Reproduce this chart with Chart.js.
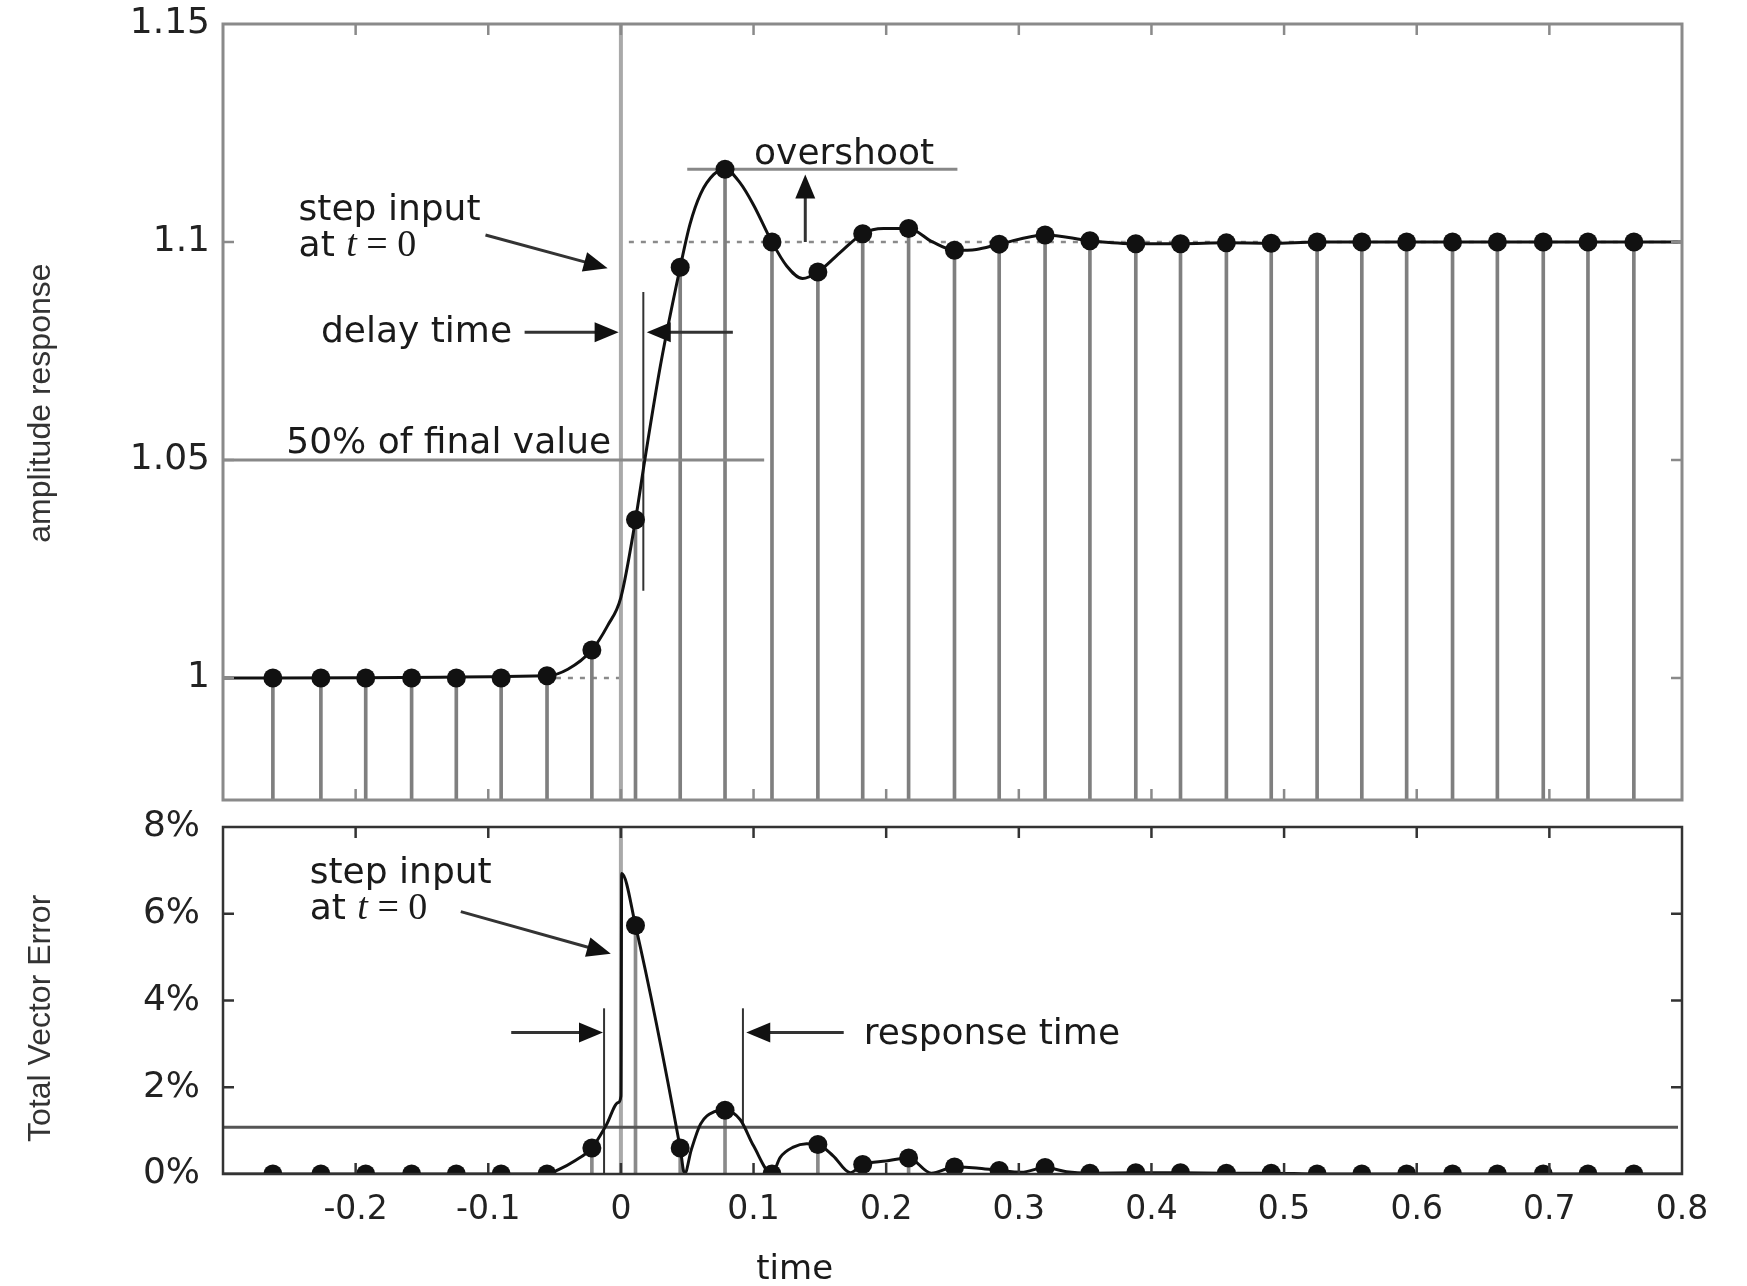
<!DOCTYPE html>
<html>
<head>
<meta charset="utf-8">
<script src="https://cdn.jsdelivr.net/npm/chart.js@4.4.1/dist/chart.umd.min.js"></script>
<style>
html,body{margin:0;padding:0;background:#fff;}
#wrap{position:relative;width:1747px;height:1286px;overflow:hidden;background:#fff;}
#c1{position:absolute;left:0;top:0;}
#c2{position:absolute;left:0;top:800px;}
</style>
</head>
<body>
<div id="wrap">
<canvas id="c1" width="1747" height="812"></canvas>
<canvas id="c2" width="1747" height="486"></canvas>
</div>
<script>
// ---------------- data ----------------
const xMin = -0.3, xMax = 0.8;
const xTickValues = [-0.2,-0.1,0,0.1,0.2,0.3,0.4,0.5,0.6,0.7,0.8];
const xTickLabels = ['-0.2','-0.1','0','0.1','0.2','0.3','0.4','0.5','0.6','0.7','0.8'];

const ampMin = 0.972, ampMax = 1.15;
const ampTickValues = [1, 1.05, 1.1, 1.15];
const ampTickLabels = ['1', '1.05', '1.1', '1.15'];

const tveMin = 0, tveMax = 8;
const tveTickValues = [0, 2, 4, 6, 8];
const tveTickLabels = ['0%', '2%', '4%', '6%', '8%'];

// sampled instants (time axis)
const sampleTimes = [-0.2624,-0.2262,-0.1924,-0.1578,-0.1241,-0.0903,-0.0557,-0.0219,0.0110,0.0447,
  0.0785,0.1139,0.1485,0.1823,0.2169,0.2515,0.2852,0.3198,0.3536,0.3882,0.4219,0.4565,0.4903,
  0.5249,0.5586,0.5924,0.6270,0.6608,0.6954,0.7291,0.7637];
// amplitude response at the samples
const amplitudeSamples = [1,1,1,1,1,1,1.0005,1.0064,1.0363,1.0942,
  1.1167,1.1000,1.0931,1.1019,1.1031,1.0981,1.0995,1.1016,1.1003,1.0996,1.0996,1.0998,1.0997,
  1.1,1.1,1.1,1.1,1.1,1.1,1.1,1.1];
// total vector error (%) at the samples
const tveSamples = [0,0,0,0,0,0,0,0.6,5.73,0.6,
  1.47,0,0.68,0.22,0.37,0.16,0.08,0.15,0.02,0.03,0.03,0.02,0.02,
  0,0,0,0,0,0,0,0];

// continuous response curve
const ampCurveT = [-0.3,-0.0557,-0.04,-0.0219,-0.01,0,0.011,0.018,0.03,0.0447,0.052,0.06,0.07,0.0785,0.09,0.1,
  0.1139,0.125,0.137,0.1485,0.165,0.1823,0.198,0.2169,0.235,0.2515,0.268,0.2852,0.3198,0.3536,0.3882,
  0.4219,0.4565,0.4903,0.5249,0.8];
const ampCurveV = [1,1.0005,1.002,1.0064,1.012,1.0185,1.0363,1.05,1.072,1.0942,1.104,1.111,1.1155,1.1167,1.1135,1.1085,
  1.1,1.0945,1.0916,1.0931,1.0975,1.1019,1.1031,1.1031,1.1,1.0981,1.0983,1.0995,1.1016,1.1003,1.0996,
  1.0996,1.0998,1.0997,1.1,1.1];

// continuous TVE curve
const tveCurveT = [-0.3,-0.0557,-0.047,-0.035,-0.0219,-0.011,-0.002,0,0.0006,0.011,0.0447,0.048,0.053,0.06,0.07,0.0785,
  0.09,0.1,0.1139,0.12,0.13,0.14,0.1485,0.16,0.173,0.1823,0.2,0.2169,0.234,0.2515,0.268,0.2852,0.302,0.3198,
  0.336,0.3536,0.3882,0.4219,0.4565,0.4903,0.5249,0.8];
const tveCurveV = [0,0,0.1,0.3,0.6,1.13,1.65,1.8,6.93,5.73,0.6,0,0.55,1.15,1.43,1.47,
  1.25,0.65,0,0.38,0.62,0.7,0.68,0.42,0.03,0.22,0.3,0.37,0.02,0.16,0.14,0.08,0.04,0.15,
  0.05,0.02,0.03,0.03,0.02,0.02,0,0];

// reference lines of the upper panel
const stepLineT = [0, 0];
const halfValueT = [-0.3, 0.108],  halfValueV = [1.05, 1.05];
const overshootT = [0.05, 0.2537], overshootV = [1.1167, 1.1167];
const initialLevelT = [-0.049, 0], initialLevelV = [1, 1];
const finalLevelT = [0.006, 0.8],  finalLevelV = [1.1, 1.1];
const delayMarkT = [0.0169, 0.0169], delayMarkV = [1.020, 1.0885];
// reference lines of the lower panel
const tveLimitT = [-0.3, 0.797], tveLimitV = [1.08, 1.08];
const respStartT = [-0.0127, -0.0127], respStartV = [0, 3.82];
const respEndT = [0.092, 0.092], respEndV = [1.08, 3.82];

// arrows: [t1, v1, t2 (tip), v2 (tip)]
const ampArrows = [[-0.1021,1.1016,-0.010,1.0940],[-0.0726,1.0793,-0.0017,1.0793],[0.0844,1.0793,0.0195,1.0793],[0.139,1.1,0.139,1.1155]];
const tveArrows = [[-0.1207,6.05,-0.0076,5.08],[-0.0827,3.26,-0.0135,3.26],[0.168,3.26,0.0945,3.26]];

// annotation texts: [text, t, value]
const ampTexts = [['overshoot',0.1004,1.1200],['step input',-0.243,1.1072],['delay time',-0.2262,1.0793],['50% of final value',-0.2523,1.0537]];
const ampStepAt = [-0.243, 1.0990];
const tveTexts = [['step input',-0.2346,6.92],['response time',0.1831,3.21]];
const tveStepAt = [-0.2346, 6.10];
const timeTitleT = 0.131;

// ---------------- helpers ----------------
const pts = (ts, vs) => ts.map((t, i) => ({x: t, y: vs[i]}));
const SANS = '"DejaVu Sans", "Liberation Sans", sans-serif';
const TXT = '#1a1a1a';

function lineDs(ts, vs, color, width, order, dash) {
  return {type: 'line', data: pts(ts, vs), borderColor: color, borderWidth: width,
    pointRadius: 0, fill: false, tension: 0, order: order, borderDash: dash || []};
}

function arrow(ctx, x1, y1, x2, y2, len, hw) {
  const a = Math.atan2(y2 - y1, x2 - x1);
  ctx.beginPath();
  ctx.moveTo(x1, y1);
  ctx.lineTo(x2 - len * 0.6 * Math.cos(a), y2 - len * 0.6 * Math.sin(a));
  ctx.stroke();
  ctx.beginPath();
  ctx.moveTo(x2, y2);
  ctx.lineTo(x2 - len * Math.cos(a) + hw * Math.sin(a), y2 - len * Math.sin(a) - hw * Math.cos(a));
  ctx.lineTo(x2 - len * Math.cos(a) - hw * Math.sin(a), y2 - len * Math.sin(a) + hw * Math.cos(a));
  ctx.closePath();
  ctx.fill();
}

function drawStepAt(ctx, px, py) {
  const parts = [['at ', '36px ' + SANS], ['t', 'italic 38px "Liberation Serif", serif'], [' = 0', '38px "Liberation Serif", serif']];
  let x = px;
  ctx.textBaseline = 'middle'; ctx.textAlign = 'left';
  parts.forEach(([s, f]) => { ctx.font = f; ctx.fillText(s, x, py); x += ctx.measureText(s).width; });
}

function makeDecor(cfg) {
  return {
    id: 'decor',
    afterDatasetsDraw(chart) {
      const {ctx, chartArea: a, scales: {x, y}} = chart;
      ctx.save();
      // inward tick marks
      ctx.strokeStyle = cfg.frameColor; ctx.lineWidth = 2.5;
      ctx.beginPath();
      cfg.xTicks.forEach(v => { const p = x.getPixelForValue(v);
        ctx.moveTo(p, a.top); ctx.lineTo(p, a.top + 11); ctx.moveTo(p, a.bottom); ctx.lineTo(p, a.bottom - 11); });
      cfg.yTicks.forEach(v => { const p = y.getPixelForValue(v);
        ctx.moveTo(a.left, p); ctx.lineTo(a.left + 11, p); ctx.moveTo(a.right, p); ctx.lineTo(a.right - 11, p); });
      ctx.stroke();
      // frame
      ctx.lineWidth = cfg.frameWidth;
      ctx.strokeRect(a.left, a.top, a.right - a.left, a.bottom - a.top);
      // arrows
      ctx.strokeStyle = '#333'; ctx.fillStyle = '#111'; ctx.lineWidth = 3;
      cfg.arrows.forEach(r => arrow(ctx, x.getPixelForValue(r[0]), y.getPixelForValue(r[1]),
        x.getPixelForValue(r[2]), y.getPixelForValue(r[3]), 24, 10));
      // texts
      ctx.fillStyle = TXT; ctx.textBaseline = 'middle'; ctx.textAlign = 'left';
      ctx.font = '36px ' + SANS;
      cfg.texts.forEach(r => ctx.fillText(r[0], x.getPixelForValue(r[1]), y.getPixelForValue(r[2])));
      drawStepAt(ctx, x.getPixelForValue(cfg.stepAt[0]), y.getPixelForValue(cfg.stepAt[1]));
      if (cfg.timeTitle) {
        ctx.font = '34px ' + SANS; ctx.textAlign = 'center';
        ctx.fillText('time', x.getPixelForValue(timeTitleT), a.bottom + 96);
      }
      ctx.restore();
    }
  };
}

function yAxis(min, max, vals, labels, title, pad) {
  return {
    type: 'linear', min: min, max: max,
    grid: {display: false, drawTicks: false}, border: {display: false},
    afterBuildTicks: s => { s.ticks = vals.map(v => ({value: v})); },
    afterFit: s => { s.width = 223; s.paddingTop = 0; s.paddingBottom = 0; },
    ticks: {font: {family: SANS, size: 36}, color: '#222', padding: pad,
      callback: (v, i) => labels[i]},
    title: {display: true, text: title, color: '#333',
      font: {family: '"Liberation Sans", Arial, sans-serif', size: 32}, padding: {top: 22, bottom: 0}}
  };
}

const common = {
  responsive: false, animation: false, devicePixelRatio: 1, events: [],
  plugins: {legend: {display: false}, tooltip: {enabled: false}}
};

// ---------------- upper panel ----------------
new Chart(document.getElementById('c1'), {
  type: 'scatter',
  data: {datasets: [
    {type: 'scatter', data: pts(sampleTimes, amplitudeSamples), pointRadius: 9.5, pointBackgroundColor: '#111',
      pointBorderWidth: 0, order: 0},
    Object.assign(lineDs(ampCurveT, ampCurveV, '#111', 3, 1), {cubicInterpolationMode: 'monotone'}),
    lineDs(halfValueT, halfValueV, '#888', 3, 2),
    lineDs(overshootT, overshootV, '#888', 3, 2),
    lineDs(delayMarkT, delayMarkV, '#333', 2, 2),
    {type: 'bar', data: pts(sampleTimes, amplitudeSamples), backgroundColor: '#7f7f7f', barThickness: 3, order: 3},
    lineDs(stepLineT, [ampMin, ampMax], '#a9a9a9', 4, 4),
    lineDs(initialLevelT, initialLevelV, '#8a8a8a', 2.5, 5, [5, 7]),
    lineDs(finalLevelT, finalLevelV, '#8a8a8a', 2.5, 5, [5, 7])
  ]},
  options: Object.assign({}, common, {
    layout: {padding: {top: 24, right: 65, bottom: 12, left: 0}},
    scales: {
      x: {type: 'linear', min: xMin, max: xMax, offset: false,
        grid: {display: false, drawTicks: false}, border: {display: false}, ticks: {display: false},
        afterFit: s => { s.height = 0; s.paddingLeft = 0; s.paddingRight = 0; }},
      y: yAxis(ampMin, ampMax, ampTickValues, ampTickLabels, '  amplitude response', 13)
    }
  }),
  plugins: [makeDecor({frameColor: '#8a8a8a', frameWidth: 3,
    xTicks: xTickValues.slice(0, -1), yTicks: ampTickValues.slice(0, -1),
    arrows: ampArrows, texts: ampTexts, stepAt: ampStepAt, timeTitle: false})]
});

// ---------------- lower panel ----------------
new Chart(document.getElementById('c2'), {
  type: 'scatter',
  data: {datasets: [
    {type: 'scatter', data: pts(sampleTimes, tveSamples), pointRadius: 9.5, pointBackgroundColor: '#111',
      pointBorderWidth: 0, order: 0},
    Object.assign(lineDs(tveCurveT, tveCurveV, '#111', 3, 1), {cubicInterpolationMode: 'monotone'}),
    lineDs(tveLimitT, tveLimitV, '#555', 3, 2),
    lineDs(respStartT, respStartV, '#333', 2, 2),
    lineDs(respEndT, respEndV, '#333', 2, 2),
    {type: 'bar', data: pts(sampleTimes, tveSamples), backgroundColor: '#8a8a8a', barThickness: 3, order: 3},
    lineDs(stepLineT, [tveMin, tveMax], '#a9a9a9', 4, 4)
  ]},
  options: Object.assign({}, common, {
    layout: {padding: {top: 27, right: 65, bottom: 0, left: 0}},
    scales: {
      x: {type: 'linear', min: xMin, max: xMax, offset: false,
        grid: {display: false}, border: {display: false},
        afterBuildTicks: s => { s.ticks = xTickValues.map(v => ({value: v})); },
        afterFit: s => { s.height = 112; s.paddingLeft = 0; s.paddingRight = 0; },
        ticks: {font: {family: SANS, size: 33}, color: '#222', padding: 9, autoSkip: false, maxRotation: 0,
          callback: (v, i) => xTickLabels[i]}},
      y: yAxis(tveMin, tveMax, tveTickValues, tveTickLabels, 'Total Vector Error    ', 23)
    }
  }),
  plugins: [makeDecor({frameColor: '#333', frameWidth: 2.5,
    xTicks: xTickValues.slice(0, -1), yTicks: tveTickValues.slice(1, -1),
    arrows: tveArrows, texts: tveTexts, stepAt: tveStepAt, timeTitle: true})]
});
</script>
</body>
</html>
